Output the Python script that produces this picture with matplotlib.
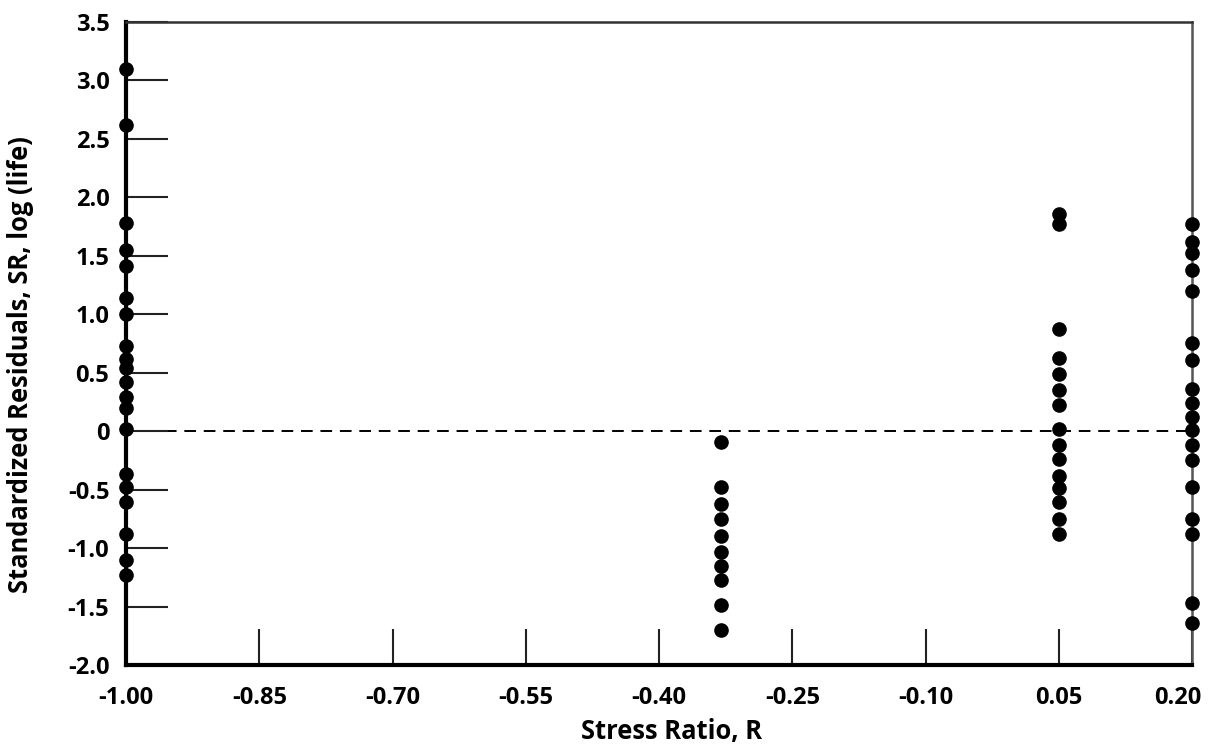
import numpy as np
import matplotlib.pyplot as plt
from matplotlib.transforms import ScaledTranslation

# Standardized residuals at each stress ratio
r_m100 = [3.10, 2.62, 1.78, 1.55, 1.41, 1.14, 1.00, 0.73, 0.62, 0.54, 0.42, 0.29,
          0.20, 0.02, -0.37, -0.48, -0.61, -0.88, -1.10, -1.23]
r_m033 = [-0.09, -0.48, -0.62, -0.75, -0.90, -1.03, -1.15, -1.27, -1.49, -1.70]
r_p005 = [1.86, 1.77, 0.87, 0.63, 0.49, 0.35, 0.22, 0.02, -0.12, -0.24, -0.38,
          -0.49, -0.61, -0.75, -0.88]
r_p020 = [1.77, 1.62, 1.52, 1.38, 1.20, 0.75, 0.61, 0.36, 0.24, 0.12, 0.01,
          -0.12, -0.25, -0.48, -0.75, -0.88, -1.47, -1.64]

groups = {-1.00: r_m100, -0.33: r_m033, 0.05: r_p005, 0.20: r_p020}

xticks = [-1.00, -0.85, -0.70, -0.55, -0.40, -0.25, -0.10, 0.05, 0.20]
yticks = [-2.0, -1.5, -1.0, -0.5, 0, 0.5, 1.0, 1.5, 2.0, 2.5, 3.0, 3.5]
ytick_labels = ['-2.0', '-1.5', '-1.0', '-0.5', '0', '0.5', '1.0', '1.5',
                '2.0', '2.5', '3.0', '3.5']

plt.rcParams['font.family'] = ['Open Sans', 'DejaVu Sans']
plt.rcParams['font.weight'] = 'bold'

fig = plt.figure(figsize=(12.15, 7.46), dpi=100)
ax = fig.add_axes([0.1037, 0.1086, 0.8774, 0.8619])

# zero reference line
ax.axhline(0, color='black', linestyle=(0, (6, 4)), linewidth=1.4, zorder=1)

for sr, vals in groups.items():
    ax.plot([sr] * len(vals), vals, 'o', color='black', markersize=9.5,
            clip_on=False, zorder=3)

ax.set_xlim(-1.00, 0.20)
ax.set_ylim(-2.0, 3.5)
ax.set_xticks(xticks)
ax.set_xticklabels([f'{v:.2f}' for v in xticks])
ax.set_yticks(yticks)
ax.set_yticklabels(ytick_labels)

ax.tick_params(axis='both', direction='in', labelsize=17, width=1.5, color='#222222')
ax.tick_params(axis='y', length=30, pad=12)
ax.tick_params(axis='x', length=26, pad=15)
for lab in ax.get_xticklabels() + ax.get_yticklabels():
    lab.set_fontweight('bold')

# last x label sits a little left of its tick so it stays inside the figure
last = ax.get_xticklabels()[-1]
last.set_transform(last.get_transform() + ScaledTranslation(-10 / 72, 0, fig.dpi_scale_trans))

ax.spines['left'].set_linewidth(3)
ax.spines['bottom'].set_linewidth(3)
ax.spines['top'].set_linewidth(1.8)
ax.spines['right'].set_linewidth(1.8)
ax.spines['top'].set_color('#333333')
ax.spines['right'].set_color('#555555')

ax.set_xlabel('Stress Ratio, R', fontsize=18.4, fontweight='bold')
ax.set_ylabel('Standardized Residuals, SR, log (life)', fontsize=18.4,
              fontweight='bold')
ax.xaxis.set_label_coords(0.512, -0.083)
ax.yaxis.set_label_coords(-0.086, 0.467)

fig.savefig('out.png', dpi=100)
